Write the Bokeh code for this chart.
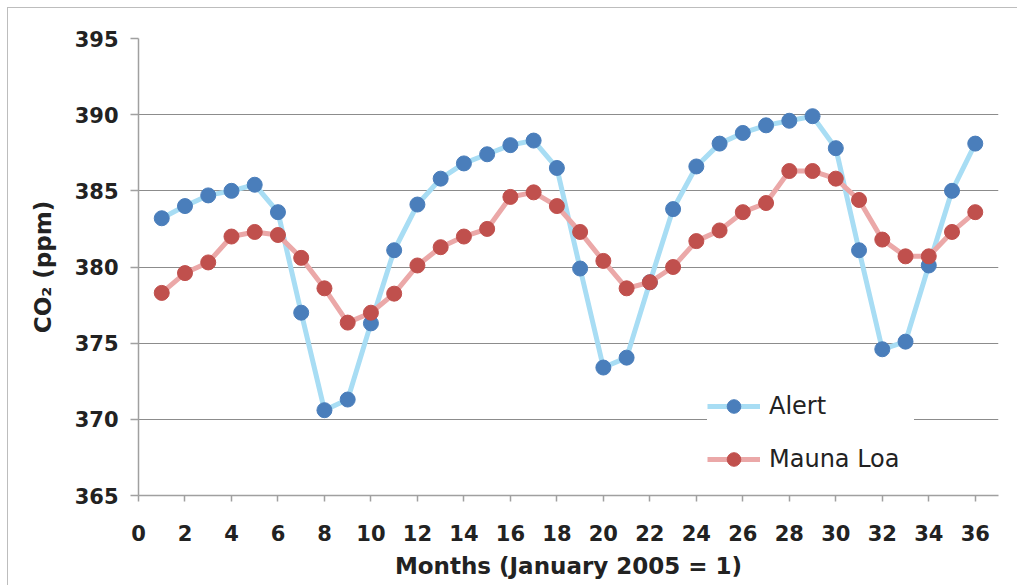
from bokeh.plotting import figure
from bokeh.models import Range1d, FixedTicker, Legend, LegendItem
from bokeh.embed import file_html
from bokeh.resources import INLINE

# ---- data ----
months = [1, 2, 3, 4, 5, 6, 7, 8, 9, 10, 11, 12, 13, 14, 15, 16, 17, 18,
          19, 20, 21, 22, 23, 24, 25, 26, 27, 28, 29, 30, 31, 32, 33, 34, 35, 36]
alert = [383.2, 384.0, 384.7, 385.0, 385.4, 383.6, 377.0, 370.6, 371.3, 376.3,
         381.1, 384.1, 385.8, 386.8, 387.4, 388.0, 388.3, 386.5, 379.9, 373.4,
         374.05, 379.0, 383.8, 386.6, 388.1, 388.8, 389.3, 389.6, 389.9, 387.8,
         381.1, 374.6, 375.1, 380.1, 385.0, 388.1]
mauna_loa = [378.3, 379.6, 380.3, 382.0, 382.3, 382.1, 380.6, 378.6, 376.35, 377.0,
             378.25, 380.1, 381.3, 382.0, 382.5, 384.6, 384.9, 384.0, 382.3, 380.4,
             378.6, 379.0, 380.0, 381.7, 382.4, 383.6, 384.2, 386.3, 386.3, 385.8,
             384.4, 381.8, 380.7, 380.7, 382.3, 383.6]
series_names = ["Alert", "Mauna Loa"]
x_ticks = [0, 2, 4, 6, 8, 10, 12, 14, 16, 18, 20, 22, 24, 26, 28, 30, 32, 34, 36]
y_ticks = [365, 370, 375, 380, 385, 390, 395]
x_title = "Months (January 2005 = 1)"
y_title = "CO\u2082 (ppm)"

FONT = "DejaVu Sans"
TXT = "#222222"

p = figure(width=1010, height=578, output_backend="svg", toolbar_location=None,
           x_range=Range1d(0, 37), y_range=Range1d(365, 395),
           min_border_left=130, min_border_right=20,
           min_border_top=30, min_border_bottom=91)
p.styles = {"margin": "8px 0px 0px 8px",
            "box-shadow": "-1px -1px 0px 0px #bdbdbd"}

p.background_fill_color = "white"
p.border_fill_color = "white"
p.outline_line_color = None
p.xgrid.visible = False
p.ygrid.grid_line_color = "#8c8c8c"
p.ygrid.grid_line_width = 1.2

for ax in (p.xaxis, p.yaxis):
    ax.axis_line_color = "#a0a0a0"
    ax.axis_line_width = 1.5
    ax.major_tick_line_color = "#a0a0a0"
    ax.major_tick_line_width = 1.5
    ax.minor_tick_line_color = None
    ax.major_tick_in = 0
    ax.major_label_text_font = FONT
    ax.major_label_text_font_style = "bold"
    ax.major_label_text_font_size = "21px"
    ax.major_label_text_color = TXT
    ax.axis_label_text_font = FONT
    ax.axis_label_text_font_style = "bold"
    ax.axis_label_text_font_size = "23px"
    ax.axis_label_text_color = TXT

p.xaxis.ticker = FixedTicker(ticks=x_ticks)
p.yaxis.ticker = FixedTicker(ticks=y_ticks)
p.xaxis.major_tick_out = 6
p.yaxis.major_tick_out = 8
p.xaxis.major_label_standoff = 23
p.yaxis.major_label_standoff = 12
p.xaxis.axis_label = x_title
p.yaxis.axis_label = y_title
p.xaxis.axis_label_standoff = 9
p.yaxis.axis_label_standoff = 16

l1 = p.line(months, alert, line_color="#A8DDF4", line_width=5)
c1 = p.scatter(months, alert, size=15, fill_color="#4A7EBB", line_color="#4A7EBB")
l2 = p.line(months, mauna_loa, line_color="#EBA8A8", line_width=5)
c2 = p.scatter(months, mauna_loa, size=15, fill_color="#C0504D", line_color="#C0504D")

legend = Legend(items=[LegendItem(label=series_names[0], renderers=[l1, c1]),
                       LegendItem(label=series_names[1], renderers=[l2, c2])],
                location=(569, 19))
legend.background_fill_color = "white"
legend.background_fill_alpha = 1.0
legend.border_line_color = None
legend.label_text_font = FONT
legend.label_text_font_size = "24px"
legend.label_text_color = TXT
legend.glyph_width = 53
legend.glyph_height = 34
legend.label_height = 34
legend.label_width = 145
legend.label_standoff = 9
legend.spacing = 19
legend.padding = 12
legend.margin = 0
p.add_layout(legend)

open("out.html", "w").write(file_html(p, INLINE))
